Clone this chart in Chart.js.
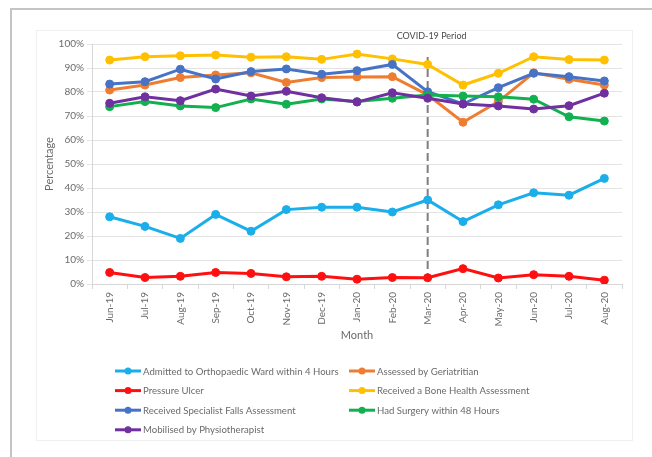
<!DOCTYPE html>
<html>
<head>
<meta charset="utf-8">
<script src="https://cdn.jsdelivr.net/npm/chart.js@4.4.1/dist/chart.umd.min.js"></script>
<style>
  html, body { margin: 0; padding: 0; background: #ffffff; overflow: hidden; }
  body { width: 652px; height: 457px; position: relative; }
  #frame { position: absolute; left: 10px; top: 8px; width: 760px; height: 640px; border: 2px solid #c4c4c4; }
  #card { position: absolute; left: 36px; top: 30px; width: 595px; height: 409px; border: 1px solid #f0f0f0; }
  #chart { position: absolute; left: 0; top: 0; }
</style>
</head>
<body>
<div id="frame"></div>
<div id="card"></div>
<canvas id="chart" width="652" height="457"></canvas>
<script>
// Monthly categories
const months = ['Jun-19', 'Jul-19', 'Aug-19', 'Sep-19', 'Oct-19', 'Nov-19', 'Dec-19', 'Jan-20',
                'Feb-20', 'Mar-20', 'Apr-20', 'May-20', 'Jun-20', 'Jul-20', 'Aug-20'];

// Percentage of patients per indicator, by month
const admittedOrthoWard4h = [28, 24, 19, 29, 22, 31, 32, 32, 30, 35, 26, 33, 38, 37, 44];
const assessedGeriatritian = [80.8, 82.9, 86.0, 87.1, 88.0, 84.0, 86.0, 86.3, 86.4, 78.8, 67.4, 76.0, 88.0, 85.3, 82.9];
const pressureUlcer = [4.8, 2.7, 3.2, 4.8, 4.4, 3.0, 3.2, 2.0, 2.7, 2.6, 6.4, 2.5, 3.9, 3.2, 1.6];
const boneHealthAssessment = [93.3, 94.7, 95.1, 95.4, 94.5, 94.7, 93.6, 95.8, 93.8, 91.5, 82.9, 87.8, 94.7, 93.5, 93.3];
const specialistFallsAssessment = [83.3, 84.3, 89.5, 85.4, 88.5, 89.6, 87.4, 88.9, 91.5, 80.1, 75.0, 81.8, 87.8, 86.4, 84.6];
const surgeryWithin48h = [73.9, 76.0, 74.2, 73.5, 77.1, 74.9, 77.1, 76.0, 77.4, 78.7, 78.3, 78.0, 77.0, 69.7, 67.9];
const mobilisedByPhysio = [75.3, 78.0, 76.4, 81.2, 78.3, 80.3, 77.6, 75.8, 79.7, 77.4, 75.0, 74.2, 72.9, 74.3, 79.5];

// Y axis ticks
const yTicks = [0, 10, 20, 30, 40, 50, 60, 70, 80, 90, 100];

// Start of the COVID-19 period
const covidStartMonth = 'Mar-20';
const covidLabel = 'COVID-19 Period';

const seriesList = [
  ['Admitted to Orthopaedic Ward within 4 Hours', admittedOrthoWard4h, '#1aaeea'],
  ['Assessed by Geriatritian', assessedGeriatritian, '#ee7d31'],
  ['Pressure Ulcer', pressureUlcer, '#ff1010'],
  ['Received a Bone Health Assessment', boneHealthAssessment, '#ffc000'],
  ['Received Specialist Falls Assessment', specialistFallsAssessment, '#4773c6'],
  ['Had Surgery within 48 Hours', surgeryWithin48h, '#12b04f'],
  ['Mobilised by Physiotherapist', mobilisedByPhysio, '#7030a0']
];

const FONT = 'Lato, "Open Sans", sans-serif';
const TEXT = '#6a6a6a';

const datasets = seriesList.map(([label, data, color], i) => ({
  label, data,
  borderColor: color,
  backgroundColor: color,
  pointBackgroundColor: color,
  pointBorderColor: color,
  borderWidth: 3,
  pointRadius: 4,
  pointBorderWidth: 1,
  tension: 0,
  order: seriesList.length - i
}));

// Dashed marker line with caption at the start of the COVID-19 period
const covidMarker = {
  id: 'covidMarker',
  beforeDatasetsDraw(chart) {
    const { ctx, chartArea, scales } = chart;
    const x = scales.x.getPixelForValue(months.indexOf(covidStartMonth));
    ctx.save();
    ctx.strokeStyle = '#7f7f7f';
    ctx.lineWidth = 2;
    ctx.setLineDash([8, 4]);
    ctx.beginPath();
    ctx.moveTo(x, chartArea.top + 13);
    ctx.lineTo(x, chartArea.bottom);
    ctx.stroke();
    ctx.restore();
  },
  afterDraw(chart) {
    const { ctx, chartArea, scales } = chart;
    const x = scales.x.getPixelForValue(months.indexOf(covidStartMonth));
    ctx.save();
    ctx.fillStyle = '#4a4a4a';
    ctx.font = '9px ' + FONT;
    ctx.textAlign = 'center';
    ctx.textBaseline = 'middle';
    ctx.fillText(covidLabel, x + 4, chartArea.top - 8);
    ctx.restore();
  }
};

// Two-column legend below the axis
const gridLegend = {
  id: 'gridLegend',
  afterDraw(chart) {
    const { ctx } = chart;
    const colX = [115, 349];
    const rowY0 = 371, rowStep = 19.6;
    ctx.save();
    ctx.font = '9.6px ' + FONT;
    ctx.textBaseline = 'middle';
    ctx.textAlign = 'left';
    chart.data.datasets.forEach((ds, i) => {
      const x = colX[i % 2];
      const y = rowY0 + Math.floor(i / 2) * rowStep;
      ctx.strokeStyle = ds.borderColor;
      ctx.lineWidth = 3;
      ctx.beginPath();
      ctx.moveTo(x, y);
      ctx.lineTo(x + 26, y);
      ctx.stroke();
      ctx.fillStyle = ds.borderColor;
      ctx.beginPath();
      ctx.arc(x + 13, y, 3.5, 0, Math.PI * 2);
      ctx.fill();
      ctx.fillStyle = TEXT;
      ctx.fillText(ds.label, x + 28, y + 0.5);
    });
    ctx.restore();
  }
};

new Chart(document.getElementById('chart'), {
  type: 'line',
  data: { labels: months, datasets },
  options: {
    responsive: false,
    animation: false,
    layout: { padding: { left: 36, top: 44, right: 30, bottom: 113 } },
    plugins: { legend: { display: false }, tooltip: { enabled: false } },
    scales: {
      x: {
        offset: true,
        grid: { display: true, drawOnChartArea: false, offset: true, tickLength: 5, color: '#d6d6d6' },
        border: { color: '#d6d6d6' },
        ticks: { minRotation: 90, maxRotation: 90, padding: 3, color: TEXT, font: { family: FONT, size: 10 } },
        title: { display: true, text: 'Month', color: TEXT, font: { family: FONT, size: 11 }, padding: { top: 0, bottom: 2 } },
        afterFit(scale) { scale.height = 60; }
      },
      y: {
        min: 0, max: 100,
        afterBuildTicks(scale) { scale.ticks = yTicks.map(v => ({ value: v })); },
        grid: { color: '#e3e3e3', tickLength: 5 },
        border: { color: '#d6d6d6' },
        ticks: { padding: 3, color: TEXT, font: { family: FONT, size: 10 }, callback: v => v + '%' },
        title: { display: true, text: 'Percentage', color: TEXT, font: { family: FONT, size: 11 }, padding: { top: 7, bottom: 0 } },
        afterFit(scale) { scale.width = 56; }
      }
    }
  },
  plugins: [covidMarker, gridLegend]
});
</script>
</body>
</html>
